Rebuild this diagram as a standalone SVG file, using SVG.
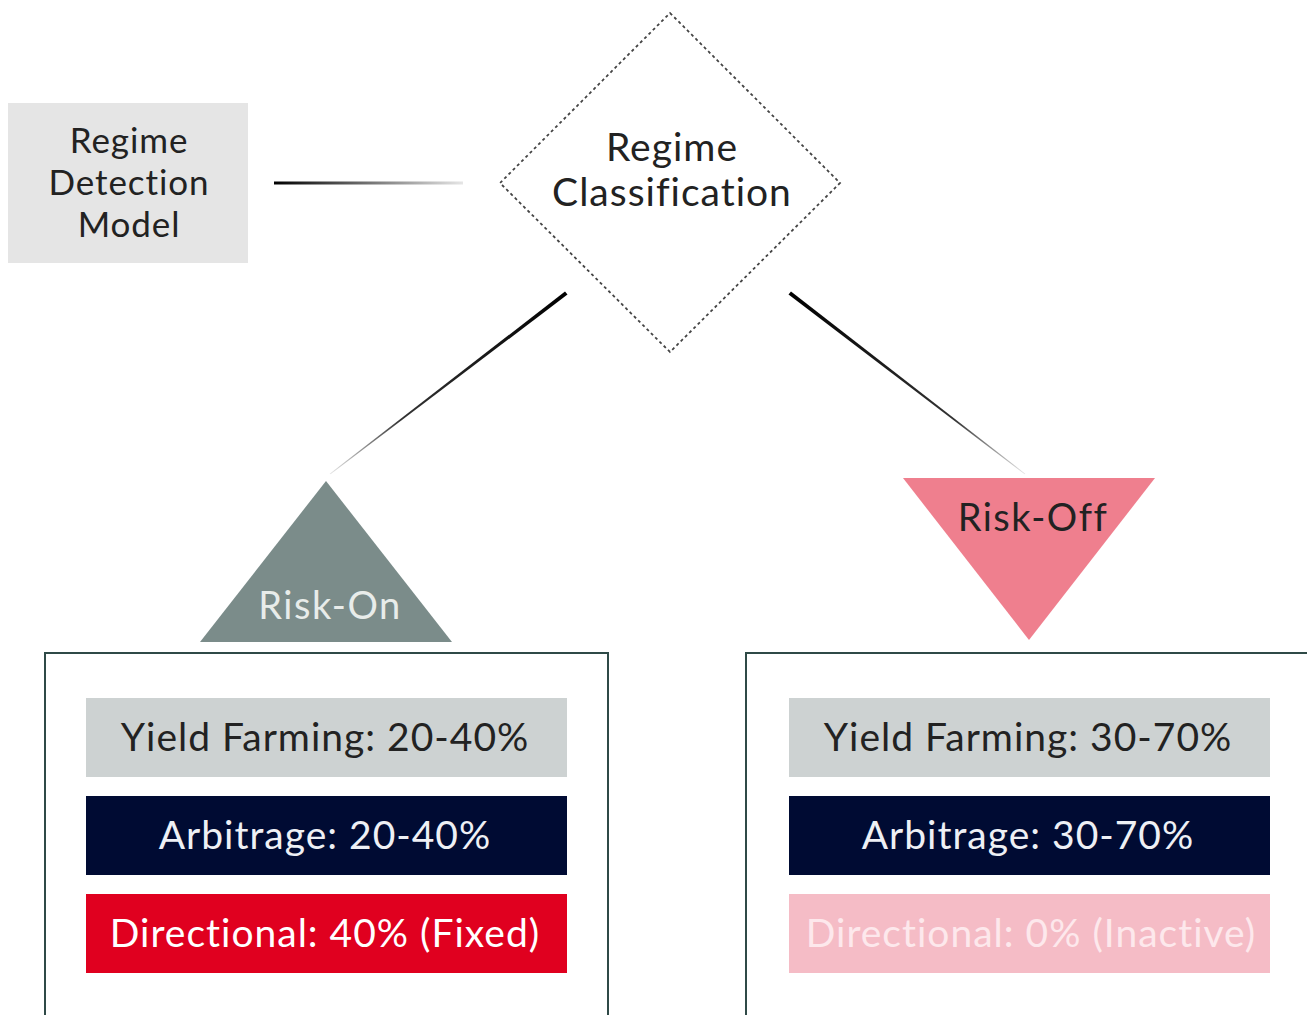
<svg xmlns="http://www.w3.org/2000/svg" width="1307" height="1015" viewBox="0 0 1307 1015">
<style>
text{font-family:Lato,"Open Sans","Liberation Sans",sans-serif;text-anchor:middle;font-weight:400}
.t34{font-size:35px;fill:#222;letter-spacing:0.9px}
.t38{font-size:39px;fill:#222;letter-spacing:1px}
.bar{font-size:39px;letter-spacing:1px}
.tri{font-size:38px;letter-spacing:1.5px}
.panel{fill:none;stroke:#2f4a47;stroke-width:2}
</style>
<defs>
<linearGradient id="hg" x1="0" y1="0" x2="1" y2="0">
<stop offset="0" stop-color="#000"/>
<stop offset="1" stop-color="#000" stop-opacity="0.1"/>
</linearGradient>
<linearGradient id="lg" gradientUnits="userSpaceOnUse" x1="566" y1="293" x2="330" y2="474">
<stop offset="0" stop-color="#000"/>
<stop offset="0.7" stop-color="#000" stop-opacity="0.8"/>
<stop offset="1" stop-color="#000" stop-opacity="0.1"/>
</linearGradient>
<linearGradient id="rg" gradientUnits="userSpaceOnUse" x1="790" y1="293" x2="1025" y2="474">
<stop offset="0" stop-color="#000"/>
<stop offset="0.7" stop-color="#000" stop-opacity="0.8"/>
<stop offset="1" stop-color="#000" stop-opacity="0.1"/>
</linearGradient>
</defs>
<rect width="1307" height="1015" fill="#fff"/>
<g id="connectors">
<rect x="274" y="181.5" width="189" height="3" fill="url(#hg)"/>
<polygon points="565,291.5 567.5,294.5 330.5,474.3 329.7,473.7" fill="url(#lg)"/>
<polygon points="791,291.5 788.5,294.5 1024.7,474.3 1025.3,473.7" fill="url(#rg)"/>
</g>
<g id="detection">
<rect x="8" y="103" width="240" height="160" fill="#e5e5e5"/>
<text class="t34" x="129" y="153">Regime</text>
<text class="t34" x="129" y="195">Detection</text>
<text class="t34" x="129" y="237">Model</text>
</g>
<g id="classification">
<polygon points="670,13 840,183 670,352 500,183" fill="none" stroke="#444" stroke-width="1.8" stroke-dasharray="3 3"/>
<text class="t38" x="672" y="161">Regime</text>
<text class="t38" x="672" y="206">Classification</text>
</g>
<g id="risk-on">
<polygon points="326,481 452,642 200,642" fill="#7b8c8a"/>
<text class="tri" x="330" y="619" fill="#e8ecea">Risk-On</text>
</g>
<g id="risk-off">
<polygon points="903,478 1155,478 1029,640" fill="#ef7f8e"/>
<text class="tri" x="1033" y="531" fill="#222">Risk-Off</text>
</g>
<g id="risk-on-allocation">
<rect class="panel" x="45" y="653" width="563" height="380"/>
<rect x="86" y="698" width="481" height="79" fill="#cdd2d2"/>
<text class="bar" x="325" y="751" fill="#222">Yield Farming: 20-40%</text>
<rect x="86" y="796" width="481" height="79" fill="#000b33"/>
<text class="bar" x="325" y="849" fill="#eef0f5">Arbitrage: 20-40%</text>
<rect x="86" y="894" width="481" height="79" fill="#e0001f"/>
<text class="bar" x="325" y="947" fill="#fff">Directional: 40% (Fixed)</text>
</g>
<g id="risk-off-allocation">
<rect class="panel" x="746" y="653" width="600" height="380"/>
<rect x="789" y="698" width="481" height="79" fill="#cdd2d2"/>
<text class="bar" x="1028" y="751" fill="#222">Yield Farming: 30-70%</text>
<rect x="789" y="796" width="481" height="79" fill="#000b33"/>
<text class="bar" x="1028" y="849" fill="#eef0f5">Arbitrage: 30-70%</text>
<rect x="789" y="894" width="481" height="79" fill="#f5bcc6"/>
<text class="bar" x="1031" y="947" fill="#fde8ec">Directional: 0% (Inactive)</text>
</g>
</svg>
